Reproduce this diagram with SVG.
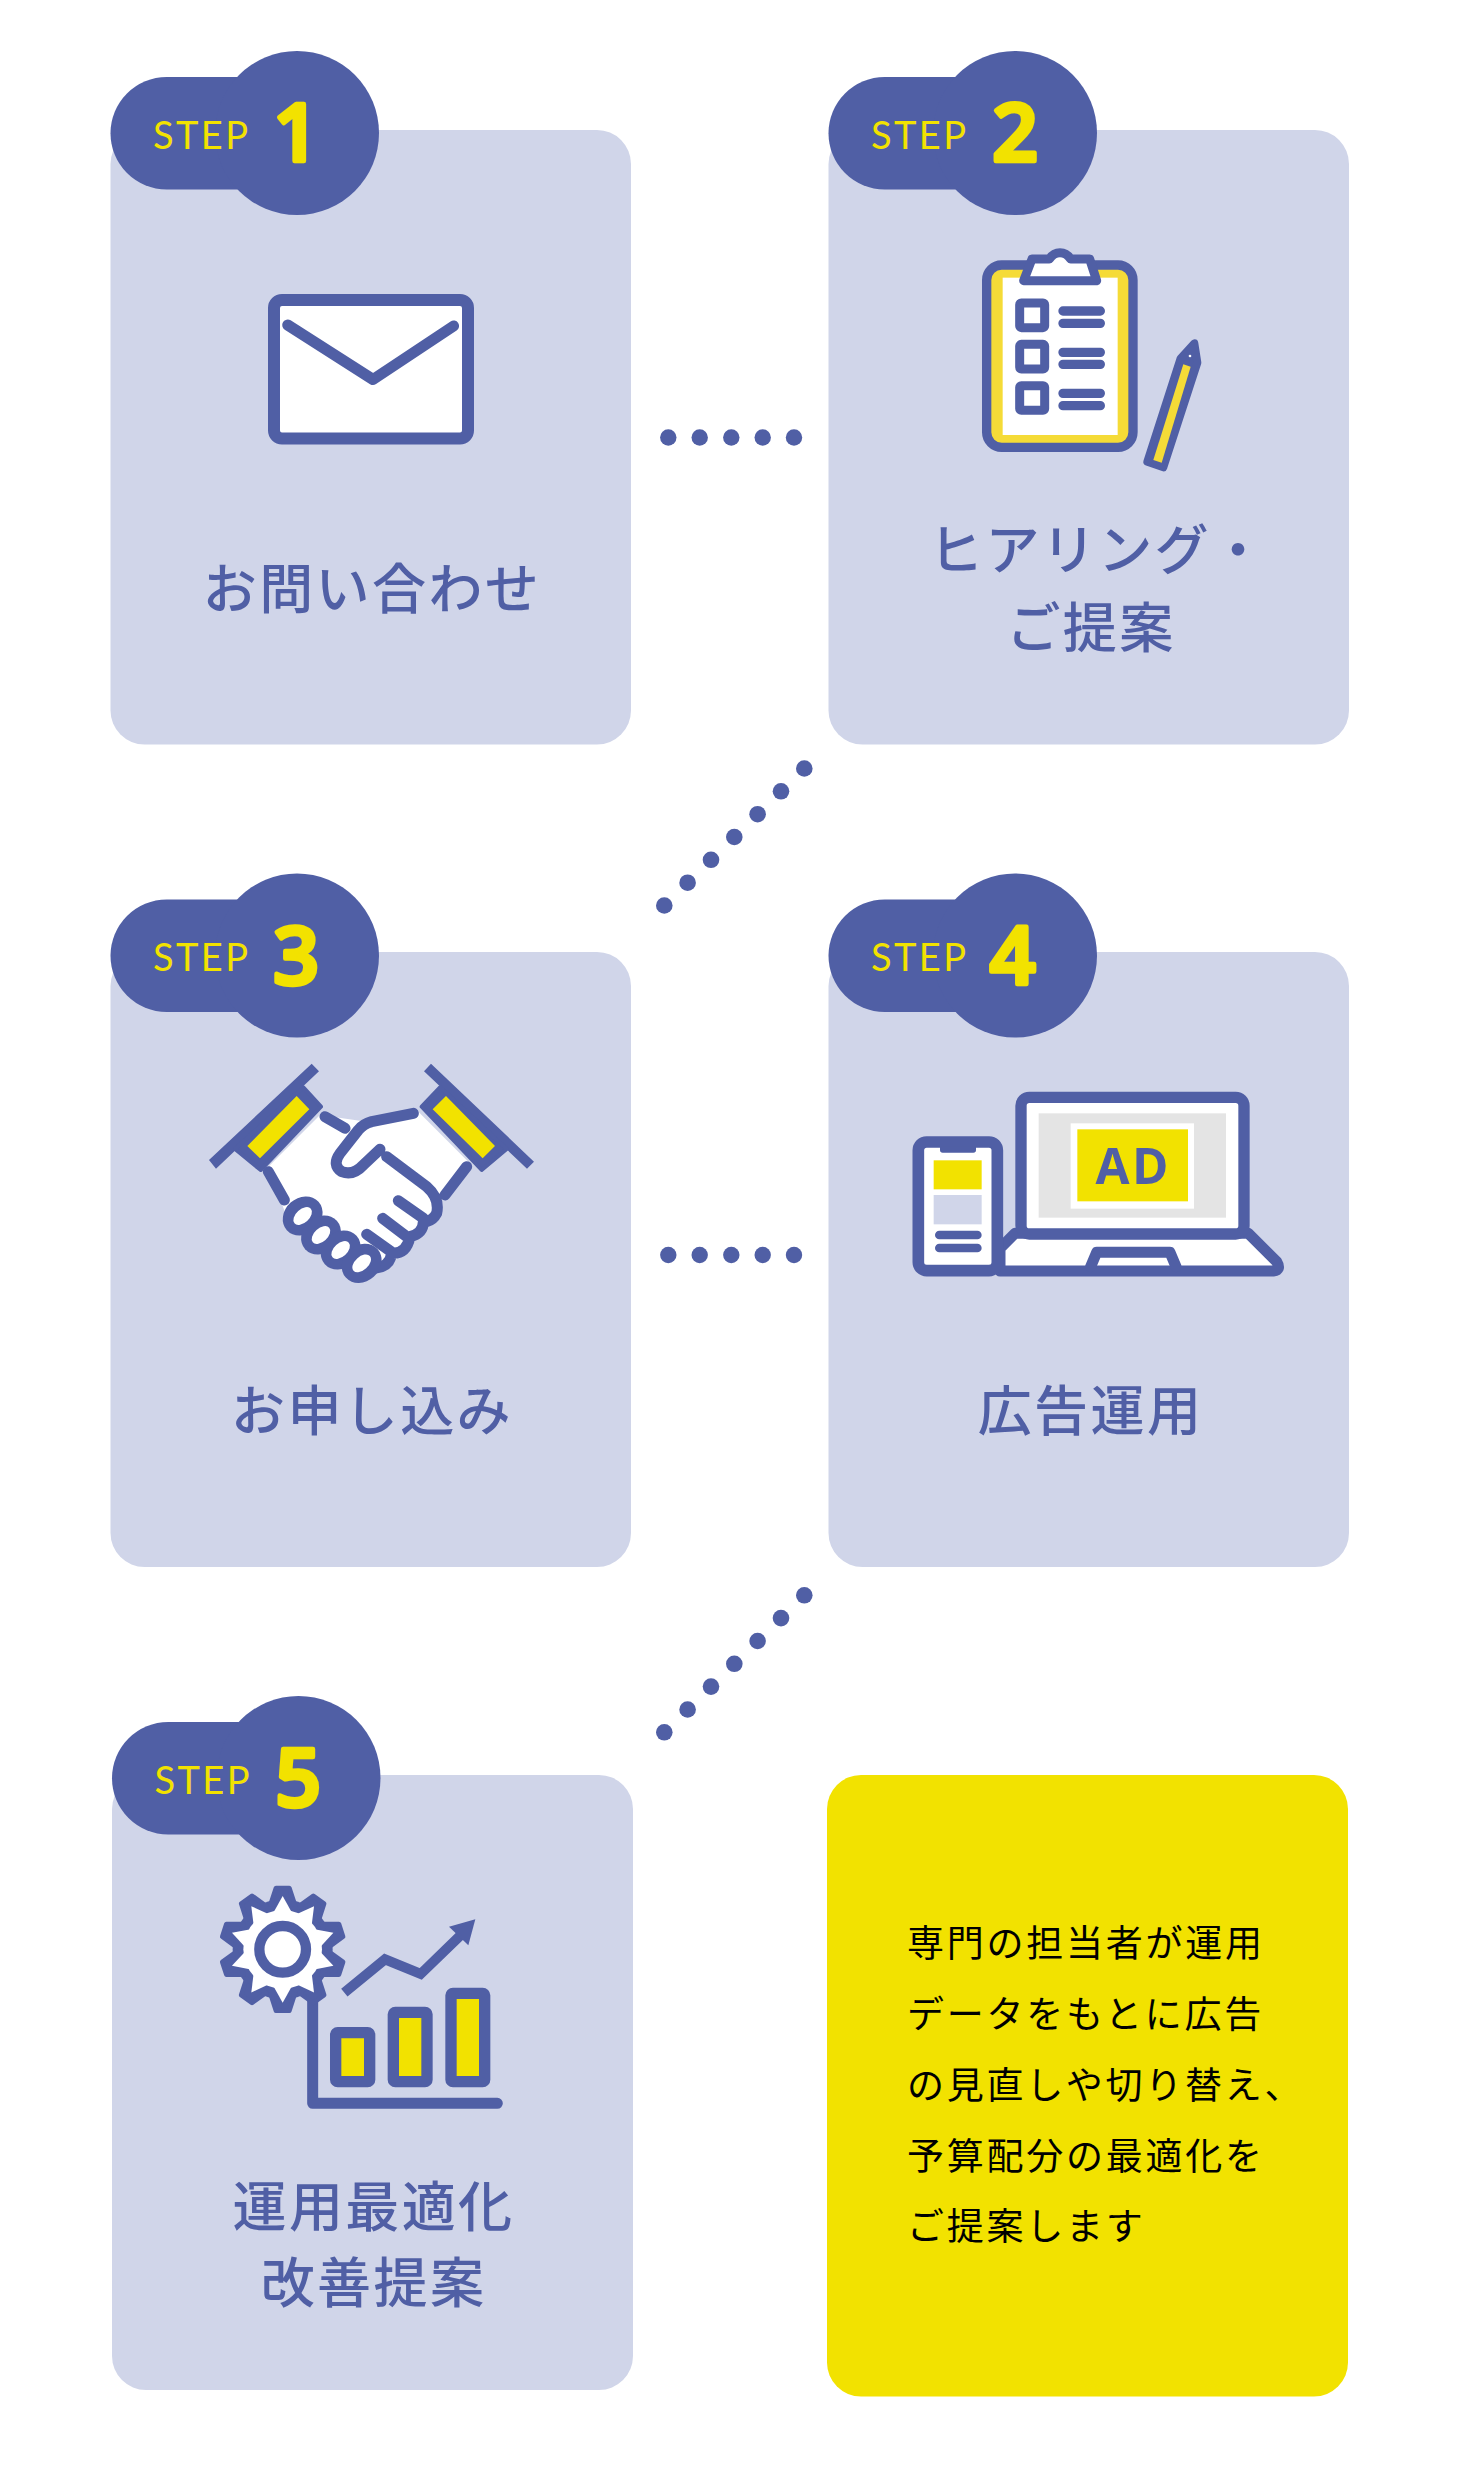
<svg xmlns="http://www.w3.org/2000/svg" xmlns:xlink="http://www.w3.org/1999/xlink" width="1460" height="2475" viewBox="0 0 1460 2475">
<style>
.card{fill:#d0d5e9}
.b{fill:#505fa5}
.bs{fill:none;stroke:#505fa5;stroke-linecap:round;stroke-linejoin:round}
.wb{fill:#fff;stroke:#505fa5;stroke-linejoin:round}
.y{fill:#f2e200}
.w{fill:#fff}
.step{font-family:"Lato","Liberation Sans",sans-serif;font-size:38px;letter-spacing:2.4px;fill:#f2e200}
.num{font-family:"Open Sans","Liberation Sans",sans-serif;font-weight:600;font-size:80px;fill:#f2e200;stroke:#f2e200;stroke-width:4.5;stroke-linejoin:round;text-anchor:middle}
.h{font-family:"Noto Sans CJK JP",sans-serif;font-weight:500;font-size:54px;letter-spacing:2.4px;fill:#505fa5}
.m{text-anchor:middle}
.body{font-family:"Noto Sans CJK JP",sans-serif;font-size:37px;letter-spacing:2.75px;fill:#000}
</style>
<defs>
<g id="pill"><rect class="b" x="110.5" y="77" width="230" height="112.5" rx="56.25"/><circle class="b" cx="297" cy="133" r="82"/></g>
</defs>
<rect width="1460" height="2475" fill="#fff"/>

<g id="connectors" class="b">
<circle cx="668.3" cy="437.5" r="8.2"/><circle cx="699.7" cy="437.5" r="8.2"/><circle cx="731.3" cy="437.5" r="8.2"/><circle cx="762.7" cy="437.5" r="8.2"/><circle cx="794" cy="437.5" r="8.2"/>
<circle cx="804.3" cy="768.5" r="8.3"/><circle cx="781" cy="791.3" r="8.3"/><circle cx="757.6" cy="814.2" r="8.3"/><circle cx="734.3" cy="837" r="8.3"/><circle cx="711" cy="859.8" r="8.3"/><circle cx="687.6" cy="882.7" r="8.3"/><circle cx="664.3" cy="905.5" r="8.3"/>
<circle cx="668.3" cy="1255" r="8.2"/><circle cx="699.7" cy="1255" r="8.2"/><circle cx="731.3" cy="1255" r="8.2"/><circle cx="762.7" cy="1255" r="8.2"/><circle cx="794" cy="1255" r="8.2"/>
<circle cx="804.3" cy="1595.3" r="8.3"/><circle cx="781" cy="1618.1" r="8.3"/><circle cx="757.6" cy="1641" r="8.3"/><circle cx="734.3" cy="1663.8" r="8.3"/><circle cx="711" cy="1686.6" r="8.3"/><circle cx="687.6" cy="1709.5" r="8.3"/><circle cx="664.3" cy="1732.3" r="8.3"/>
</g>

<g id="step1">
<rect class="card" x="110.5" y="130" width="520.5" height="614.5" rx="34"/>
<use xlink:href="#pill" href="#pill"/>
<text class="step" x="153" y="149">STEP</text>
<text class="num" x="296" y="161">1</text>
<rect class="wb" x="274" y="300" width="194" height="138.5" rx="8" stroke-width="12"/>
<path class="bs" stroke-width="11" d="M287.7,325 L373,379.5 L453.6,326"/>
<text class="h m" x="372" y="609">お問い合わせ</text>
</g>

<g id="step2">
<rect class="card" x="828.5" y="130" width="520.5" height="614.5" rx="34"/>
<use xlink:href="#pill" href="#pill" transform="translate(718,0)"/>
<text class="step" x="871" y="149">STEP</text>
<text class="num" x="1015" y="161">2</text>
<g transform="translate(940,230) scale(.33333)">
<rect x="140" y="105" width="439" height="547" rx="45" fill="#f5db37" stroke="#505fa5" stroke-width="28"/>
<rect class="w" x="188" y="143" width="345" height="472"/>
<path class="wb" stroke-width="27" d="M251,152 L276,87 L328,87 Q340,68 360,68 Q380,68 392,87 L449,87 L470,152 Z"/>
<rect class="wb" x="239" y="219" width="75" height="74" rx="5" stroke-width="27"/>
<rect class="wb" x="239" y="343" width="75" height="74" rx="5" stroke-width="27"/>
<rect class="wb" x="239" y="467" width="75" height="74" rx="5" stroke-width="27"/>
<path class="bs" stroke-width="28" d="M369,243H481M369,280H481M369,367H481M369,403H481M369,490H481M369,527H481"/>
<path class="b" stroke="#505fa5" stroke-width="24" stroke-linejoin="round" d="M622,695 L670,712 L772,398 L763,340 L722,385 Z"/>
<path fill="#f5db37" d="M640,690 L665,698 L752,410 L730,403 Z"/>
<circle class="w" cx="750" cy="378" r="4"/>
</g>
<text class="h" x="929" y="570">ヒアリング・</text>
<text class="h m" x="1091" y="647.5">ご提案</text>
</g>

<g id="step3">
<rect class="card" x="110.5" y="952" width="520.5" height="615" rx="34"/>
<use xlink:href="#pill" href="#pill" transform="translate(0,822.5)"/>
<text class="step" x="153" y="971">STEP</text>
<text class="num" x="296" y="984">3</text>
<g transform="translate(190,1050) scale(.33333)">
<path class="w" d="M390,195 L530,215 L680,180 L835,335 L755,445 L720,520 L660,575 L610,640 L505,690 L290,500 L235,350 Z"/>
<path class="b" d="M57,330 L365,41 L387,64 L78,356 Z M1032,335 L723,41 L702,64 L1011,356 Z"/>
<path class="b" stroke="#505fa5" stroke-width="12" stroke-linejoin="round" d="M340,112 L393,170 L212,360 L135,297 Z M750,112 L695,170 L875,360 L950,297 Z"/>
<path class="y" d="M320,138 L358,178 L210,325 L172,288 Z M768,138 L915,288 L878,325 L728,178 Z"/>
<path class="bs" stroke-width="33" d="M405,200 L465,235 M235,365 L283,450 M670,190 L545,215 Q520,222 505,240 L450,310 Q425,345 455,365 Q490,378 520,345 L570,298 M830,350 L765,435 M590,320 L710,410 Q750,445 740,490 Q730,510 710,515 M625,452 L700,505 M700,515 Q700,550 660,560 M578,505 L650,560 M660,560 Q650,610 610,610 M530,553 L610,610 M605,610 Q600,650 555,655"/>
<g class="b">
<ellipse cx="338" cy="498" rx="64" ry="54" transform="rotate(-42 338 498)"/>
<ellipse cx="393" cy="555" rx="64" ry="54" transform="rotate(-42 393 555)"/>
<ellipse cx="452" cy="600" rx="64" ry="54" transform="rotate(-42 452 600)"/>
<ellipse cx="515" cy="640" rx="64" ry="54" transform="rotate(-42 515 640)"/>
</g>
<g class="w">
<ellipse cx="338" cy="498" rx="33" ry="20" transform="rotate(-42 338 498)"/>
<ellipse cx="393" cy="555" rx="33" ry="20" transform="rotate(-42 393 555)"/>
<ellipse cx="452" cy="600" rx="33" ry="20" transform="rotate(-42 452 600)"/>
<ellipse cx="515" cy="640" rx="33" ry="20" transform="rotate(-42 515 640)"/>
</g>
</g>
<text class="h m" x="372" y="1431">お申し込み</text>
</g>

<g id="step4">
<rect class="card" x="828.5" y="952" width="520.5" height="615" rx="34"/>
<use xlink:href="#pill" href="#pill" transform="translate(718,822.5)"/>
<text class="step" x="871" y="971">STEP</text>
<text class="num" x="1012.5" y="984">4</text>
<g transform="translate(900,1070) scale(.33333)">
<path class="wb" stroke-width="33" d="M345,490 L300,535 L300,603 L1120,603 Q1145,600 1130,575 L1045,490 Z"/>
<rect class="wb" x="363" y="82" width="669" height="410" rx="25" stroke-width="34"/>
<rect fill="#e4e4e4" x="416" y="130" width="562" height="313"/>
<rect class="w" x="512" y="160" width="370" height="256"/>
<rect class="y" x="532" y="178" width="332" height="216"/>
<text x="700" y="342" text-anchor="middle" font-family="Open Sans,Liberation Sans,sans-serif" font-weight="700" font-size="148" letter-spacing="8" fill="#505fa5">AD</text>
<path class="bs" stroke-width="33" d="M572,590 L590,547 L810,547 L828,590"/>
<rect class="wb" x="55" y="216" width="237" height="386" rx="25" stroke-width="35"/>
<path class="b" d="M120,230 H228 V240 Q228,248 220,248 H128 Q120,248 120,240 Z"/>
<rect class="y" x="101" y="271" width="144" height="87"/>
<rect class="card" x="101" y="375" width="144" height="88"/>
<path class="bs" stroke-width="26" d="M118,495 H232 M118,534 H232"/>
</g>
<text class="h m" x="1090.5" y="1431">広告運用</text>
</g>

<g id="step5">
<rect class="card" x="112" y="1775" width="521" height="615" rx="34"/>
<use xlink:href="#pill" href="#pill" transform="translate(1.5,1645)"/>
<text class="step" x="154.5" y="1794">STEP</text>
<text class="num" x="298" y="1806">5</text>
<g transform="translate(200,1870) scale(.33333)">
<path class="bs" stroke-width="33" d="M338,380 L338,700 L892,700"/>
<rect class="y" x="407" y="488" width="102" height="147" rx="6" stroke="#505fa5" stroke-width="34" stroke-linejoin="round"/>
<rect class="y" x="580" y="427" width="101" height="208" rx="6" stroke="#505fa5" stroke-width="34" stroke-linejoin="round"/>
<rect class="y" x="753" y="370" width="101" height="265" rx="6" stroke="#505fa5" stroke-width="34" stroke-linejoin="round"/>
<path fill="none" stroke="#505fa5" stroke-width="30" d="M433,368 L555,268 L662,312 L790,188"/>
<path class="b" d="M747,170 L826,148 L805,226 Z"/>
<g transform="translate(248,238)">
<circle class="b" r="150"/>
<g class="b" stroke="#505fa5" stroke-width="14" stroke-linejoin="round">
<path id="t" d="M-20,-184 L20,-184 L36,-135 L-36,-135 Z"/>
<use href="#t" transform="rotate(36)"/><use href="#t" transform="rotate(72)"/><use href="#t" transform="rotate(108)"/><use href="#t" transform="rotate(144)"/><use href="#t" transform="rotate(180)"/><use href="#t" transform="rotate(216)"/><use href="#t" transform="rotate(252)"/><use href="#t" transform="rotate(288)"/><use href="#t" transform="rotate(324)"/>
</g>
<circle class="w" r="118"/>
<g class="w">
<path id="p" d="M0,-160 L30,-106 L-30,-106 Z"/>
<use href="#p" transform="rotate(36)"/><use href="#p" transform="rotate(72)"/><use href="#p" transform="rotate(108)"/><use href="#p" transform="rotate(144)"/><use href="#p" transform="rotate(180)"/><use href="#p" transform="rotate(216)"/><use href="#p" transform="rotate(252)"/><use href="#p" transform="rotate(288)"/><use href="#p" transform="rotate(324)"/>
</g>
<circle class="wb" r="70" stroke-width="31"/>
</g>
</g>
<text class="h m" x="373.5" y="2227">運用最適化</text>
<text class="h m" x="373.5" y="2302.5">改善提案</text>
</g>

<g id="note">
<rect class="y" x="827" y="1775" width="521" height="621.5" rx="34"/>
<text class="body" x="907" y="1957">専門の担当者が運用</text>
<text class="body" x="907" y="2028">データをもとに広告</text>
<text class="body" x="907" y="2098.5">の見直しや切り替え、</text>
<text class="body" x="907" y="2169.5">予算配分の最適化を</text>
<text class="body" x="907" y="2239.5">ご提案します</text>
</g>
</svg>
